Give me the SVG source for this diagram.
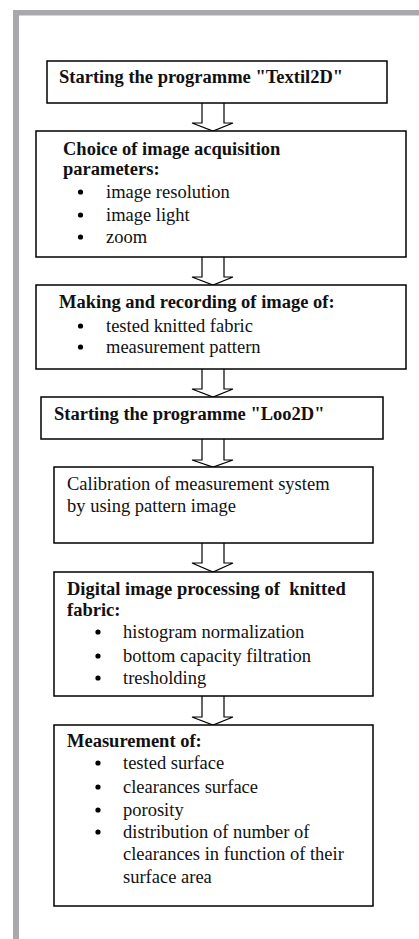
<svg xmlns="http://www.w3.org/2000/svg" width="419" height="939" viewBox="0 0 419 939">
<style>
.box{fill:#fff;stroke:#000;stroke-width:1.5}
.arr{fill:#fff;stroke:#000;stroke-width:1.2;stroke-linejoin:miter}
text{font-family:"Liberation Serif","Times New Roman",serif;font-size:18.5px;fill:#111}
.b{font-weight:bold}
.dot{fill:#000}
</style>
<rect x="0" y="0" width="419" height="939" fill="#fff"/>
<g id="frame">
<rect x="13" y="10" width="406" height="5.5" fill="#a9a9ad"/>
<rect x="13" y="10" width="6" height="929" fill="#a9a9ad"/>
</g>
<g id="connectors">
<path class="arr" d="M202,103 V123 H192 L213,131 L233,123 H224 V103"/>
<path class="arr" d="M202,257 V277 H192 L213,285 L233,277 H224 V257"/>
<path class="arr" d="M202,369 V389 H192 L213,397 L233,389 H224 V369"/>
<path class="arr" d="M202,439 V460 H192 L213,467 L233,460 H224 V439"/>
<path class="arr" d="M202,543 V563 H192 L213,572 L233,563 H224 V543"/>
<path class="arr" d="M202,696 V717 H192 L213,725 L233,717 H224 V696"/>
</g>
<g id="n1">
<rect class="box" x="47" y="61" width="340" height="42"/>
<text class="b" x="59" y="83">Starting the programme "Textil2D"</text>
</g>
<g id="n2">
<rect class="box" x="36" y="131" width="370" height="126"/>
<text class="b" x="63" y="155">Choice of image acquisition</text>
<text class="b" x="63" y="175">parameters:</text>
<circle class="dot" cx="80.5" cy="192" r="2.6"/><text x="106" y="198">image resolution</text>
<circle class="dot" cx="80.5" cy="215" r="2.6"/><text x="106" y="221">image light</text>
<circle class="dot" cx="80.5" cy="237" r="2.6"/><text x="106" y="243">zoom</text>
</g>
<g id="n3">
<rect class="box" x="36" y="285" width="370" height="84"/>
<text class="b" x="59" y="308">Making and recording of image of:</text>
<circle class="dot" cx="80.5" cy="326" r="2.6"/><text x="106" y="332">tested knitted fabric</text>
<circle class="dot" cx="80.5" cy="347" r="2.6"/><text x="106" y="353">measurement pattern</text>
</g>
<g id="n4">
<rect class="box" x="41" y="397" width="342" height="42"/>
<text class="b" x="54" y="420">Starting the programme "Loo2D"</text>
</g>
<g id="n5">
<rect class="box" x="54" y="467" width="319" height="76"/>
<text x="67" y="490">Calibration of measurement system</text>
<text x="67" y="512">by using pattern image</text>
</g>
<g id="n6">
<rect class="box" x="54" y="572" width="319" height="124"/>
<text class="b" x="67" y="595" style="white-space:pre">Digital image processing of  knitted</text>
<text class="b" x="67" y="616">fabric:</text>
<circle class="dot" cx="98" cy="632" r="2.6"/><text x="123" y="638">histogram normalization</text>
<circle class="dot" cx="98" cy="656" r="2.6"/><text x="123" y="662">bottom capacity filtration</text>
<circle class="dot" cx="98" cy="678" r="2.6"/><text x="123" y="684">tresholding</text>
</g>
<g id="n7">
<rect class="box" x="54" y="725" width="319" height="181"/>
<text class="b" x="67" y="747">Measurement of:</text>
<circle class="dot" cx="98" cy="763" r="2.6"/><text x="123" y="769">tested surface</text>
<circle class="dot" cx="98" cy="787" r="2.6"/><text x="123" y="793">clearances surface</text>
<circle class="dot" cx="98" cy="810" r="2.6"/><text x="123" y="816">porosity</text>
<circle class="dot" cx="98" cy="832" r="2.6"/><text x="123" y="838">distribution of number of</text>
<text x="123" y="860">clearances in function of their</text>
<text x="123" y="883">surface area</text>
</g>
</svg>
